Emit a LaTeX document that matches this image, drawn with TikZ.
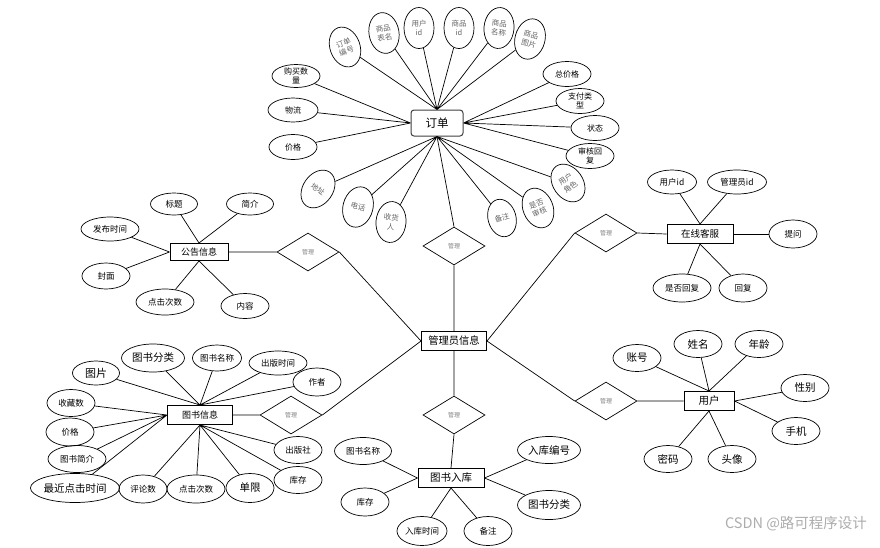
\documentclass[tikz,border=0pt]{standalone}
\usepackage{fontspec}
\setmainfont{Noto Sans CJK SC}
\usepackage{tikz}
\usetikzlibrary{shapes,positioning}

\begin{document}
\begin{tikzpicture}[x=1pt,y=-1pt,line width=0.7pt,inner sep=0pt,
    entity/.style={draw,rectangle,line width=1pt,minimum width=65pt,minimum height=19pt,font=\fontsize{9}{10}\selectfont},
    attr/.style={draw,ellipse,minimum width=48pt,minimum height=27pt,align=center,font=\fontsize{10.5}{11}\selectfont},
    sattr/.style={attr,font=\fontsize{8.5}{10}\selectfont},
    oattr/.style={draw,ellipse,minimum width=30pt,minimum height=41pt,align=center,text=black!60,font=\fontsize{7.5}{9}\selectfont},
    rel/.style={draw,diamond,minimum width=62pt,minimum height=38pt,text=black!50,font=\fontsize{6}{7}\selectfont}]
  \fill[white] (0,0) rectangle (880,547);
  \useasboundingbox (0,0) rectangle (880,547);

  \node (order) at (437,123) [entity,rounded corners=3pt,draw=black!75,minimum width=52pt,minimum height=26pt,font=\fontsize{11.5}{12}\selectfont] {订单};
  \node (notice) at (199,252) [entity,minimum width=58pt,minimum height=17pt] {公告信息};
  \node (service) at (700,234) [entity,minimum width=66pt,font=\fontsize{9.5}{10}\selectfont] {在线客服};
  \node (admin) at (454,341) [entity,font=\fontsize{10.3}{11}\selectfont] {管理员信息};
  \node (book) at (200,415) [entity] {图书信息};
  \node (stock) at (451,478) [entity,minimum width=66pt,font=\fontsize{10.5}{11}\selectfont] {图书入库};
  \node (user) at (709,401) [entity,minimum width=50pt,font=\fontsize{10.5}{11}\selectfont] {用户};

  \node (rorder) at (454,246) [rel] {管理};
  \node (rnotice) at (308,252) [rel] {管理};
  \node (rservice) at (606,233) [rel] {管理};
  \node (rbook) at (291,415) [rel] {管理};
  \node (rstock) at (454,415) [rel] {管理};
  \node (ruser) at (606,401) [rel] {管理};

  \draw (order.south) -- (rorder.north) (rorder.south) -- (admin.north);
  \draw (notice.east) -- (rnotice.west) (rnotice.east) -- (admin.west);
  \draw (service.west) -- (rservice.east) (rservice.west) -- (admin.east);
  \draw (book.east) -- (rbook.west) (rbook.east) -- (admin.west);
  \draw (admin.south) -- (rstock.north) (rstock.south) -- (stock.north);
  \draw (admin.east) -- (ruser.west) (ruser.east) -- (user.west);

  \node (ono) at (345,47) [oattr,rotate=20] {订单\\编号};
  \node (otable) at (384,33) [oattr,rotate=10] {商品\\表名};
  \node (ouid) at (419,28) [oattr] {用户\\id};
  \node (ogid) at (459,28) [oattr] {商品\\id};
  \node (oname) at (499,28) [oattr,rotate=-5] {商品\\名称};
  \node (opic) at (530,39) [oattr,rotate=-15] {商品\\图片};
  \node (oaddr) at (318,189) [oattr,rotate=-35] {地址};
  \node (otel) at (358,207) [oattr,rotate=-15] {电话};
  \node (orecv) at (391,222) [oattr,rotate=-5] {收货\\人};
  \node (onote) at (502,218) [oattr,rotate=15,minimum width=28pt,minimum height=38pt] {备注};
  \node (ocheck) at (538,208) [oattr,rotate=22] {是否\\审核};
  \node (orole) at (568,183) [oattr,rotate=35] {用户\\角色};
  \node (onum) at (296,76) [sattr,minimum height=23pt,font=\fontsize{8}{9}\selectfont] {购买数\\量};
  \node (oship) at (293,110) [sattr,minimum width=50pt,minimum height=24pt,font=\fontsize{8}{9}\selectfont] {物流};
  \node (oprice) at (293,147) [sattr,minimum height=25pt,font=\fontsize{8}{9}\selectfont] {价格};
  \node (ototal) at (567,74) [sattr,minimum height=25pt,font=\fontsize{8}{9}\selectfont] {总价格};
  \node (opay) at (580,101) [sattr,minimum height=25pt,font=\fontsize{8}{9}\selectfont] {支付类\\型};
  \node (ostate) at (595,128) [sattr,minimum height=25pt,font=\fontsize{8}{9}\selectfont] {状态};
  \node (oreply) at (590,156) [sattr,minimum height=25pt,font=\fontsize{8}{9}\selectfont] {审核回\\复};

  \draw (ono) -- (order.north) (otable) -- (order.north) (ouid) -- (order.north)
        (ogid) -- (order.north) (oname) -- (order.north) (opic) -- (order.north);
  \draw (onum) -- (order.west) (oship) -- (order.west) (oprice) -- (order.west);
  \draw (ototal) -- (order.east) (opay) -- (order.east) (ostate) -- (order.east) (oreply) -- (order.east);
  \draw (oaddr) -- (order.south) (otel) -- (order.south) (orecv) -- (order.south)
        (onote) -- (order.south) (ocheck) -- (order.south) (orole) -- (order.south);

  \node (ntitle) at (174,204) [sattr,minimum width=47pt,minimum height=22pt] {标题};
  \node (nintro) at (250,204) [sattr,minimum width=47pt,minimum height=22pt] {简介};
  \node (ntime) at (110,229) [sattr,minimum width=58pt,minimum height=24pt] {发布时间};
  \node (ncover) at (106,276) [sattr,minimum height=26pt] {封面};
  \node (nclick) at (165,302) [sattr,minimum width=58pt,minimum height=26pt] {点击次数};
  \node (ntext) at (245,306) [sattr,minimum height=25pt] {内容};
  \draw (ntitle) -- (notice.north) (nintro) -- (notice.north);
  \draw (ntime) -- (notice.west) (ncover) -- (notice.west);
  \draw (nclick) -- (notice.south) (ntext) -- (notice.south);

  \node (suid) at (672,182) [sattr,minimum width=49pt,minimum height=24pt] {用户id};
  \node (said) at (737,182) [sattr,minimum width=59pt,minimum height=24pt] {管理员id};
  \node (sask) at (793,234) [sattr,minimum height=28pt] {提问};
  \node (sdone) at (682,288) [sattr,minimum width=58pt,minimum height=28pt] {是否回复};
  \node (sreply) at (743,288) [sattr,minimum height=28pt] {回复};
  \draw (suid) -- (service.north) (said) -- (service.north);
  \draw (sask) -- (service.east);
  \draw (sdone) -- (service.south) (sreply) -- (service.south);

  \node (bpic) at (96,373) [attr,minimum width=47pt,minimum height=24pt,font=\fontsize{11}{12}\selectfont] {图片};
  \node (bkind) at (153,358) [attr,minimum width=63pt,minimum height=28pt] {图书分类};
  \node (bname) at (217,358) [sattr,minimum width=49pt,minimum height=26pt] {图书名称};
  \node (bdate) at (278,363) [sattr,minimum width=58pt,minimum height=24pt] {出版时间};
  \node (bauthor) at (317,382) [sattr,minimum height=28pt] {作者};
  \node (bfav) at (71,403) [sattr,minimum height=27pt] {收藏数};
  \node (bprice) at (70,432) [sattr,minimum height=28pt] {价格};
  \node (bintro) at (77,459) [sattr,minimum width=58pt,minimum height=27pt] {图书简介};
  \node (blast) at (75,488) [attr,minimum width=83pt,minimum height=29pt] {最近点击时间};
  \node (bcomm) at (143,489) [sattr,minimum height=28pt] {评论数};
  \node (bclick) at (196,489) [sattr,minimum width=58pt,minimum height=28pt] {点击次数};
  \node (blimit) at (250,488) [attr,minimum height=29pt] {单限};
  \node (bpress) at (298,450) [sattr,minimum height=27pt] {出版社};
  \node (bstore) at (298,480) [sattr,minimum height=27pt] {库存};
  \draw (bpic) -- (book.north) (bkind) -- (book.north) (bname) -- (book.north)
        (bdate) -- (book.north) (bauthor) -- (book.north);
  \draw (bfav) -- (book.west) (bprice) -- (book.west) (bintro) -- (book.west) (blast) -- (book.west);
  \draw (bcomm) -- (book.south) (bclick) -- (book.south) (blimit) -- (book.south)
        (bpress) -- (book.south) (bstore) -- (book.south);

  \node (iname) at (363,451) [sattr,minimum width=57pt,minimum height=27pt] {图书名称};
  \node (istore) at (365,502) [sattr,minimum height=28pt] {库存};
  \node (itime) at (422,531) [sattr,minimum width=50pt,minimum height=29pt] {入库时间};
  \node (inote) at (488,531) [sattr,minimum height=29pt] {备注};
  \node (ino) at (549,450) [attr,minimum width=63pt,minimum height=27pt] {入库编号};
  \node (ikind) at (549,505) [attr,minimum width=63pt,minimum height=29pt] {图书分类};
  \draw (iname) -- (stock.west) (istore) -- (stock.west);
  \draw (ino) -- (stock.east) (ikind) -- (stock.east);
  \draw (itime) -- (stock.south) (inote) -- (stock.south);

  \node (uacc) at (637,358) [attr] {账号};
  \node (uname) at (698,344) [attr] {姓名};
  \node (uage) at (759,344) [attr] {年龄};
  \node (usex) at (805,388) [attr] {性别};
  \node (utel) at (796,431) [attr] {手机};
  \node (upwd) at (668,459) [attr] {密码};
  \node (uface) at (732,459) [attr] {头像};
  \draw (uacc) -- (user.north) (uname) -- (user.north) (uage) -- (user.north);
  \draw (usex) -- (user.east) (utel) -- (user.east);
  \draw (upwd) -- (user.south) (uface) -- (user.south);

  \node (mark) at (796,524) [text=black!32,font=\fontsize{14.5}{15}\selectfont] {CSDN @路可程序设计};
\end{tikzpicture}
\end{document}
